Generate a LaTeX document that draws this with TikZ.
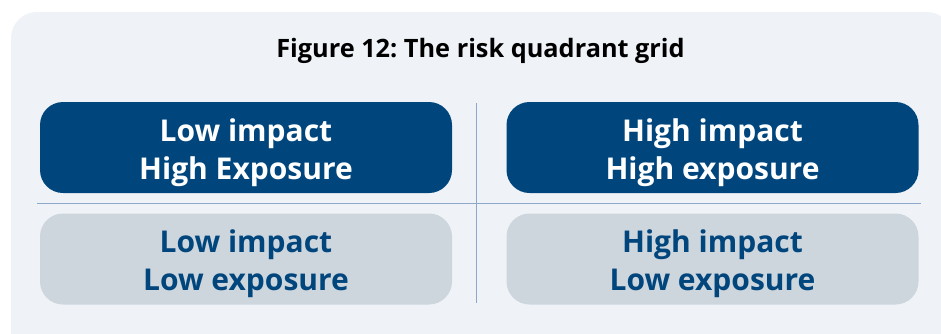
\documentclass[tikz,border=0pt]{standalone}
\usepackage{fontspec}
\setmainfont{Open Sans}
\frenchspacing
\definecolor{panelbg}{HTML}{EFF3F7}
\definecolor{navy}{HTML}{00467D}
\definecolor{softgrey}{HTML}{CDD5DD}
\definecolor{gridline}{HTML}{8EA8CA}
\tikzset{
  quad/.style={minimum width=412pt, minimum height=91pt, rounded corners=23pt, inner sep=0pt},
  hot/.style={quad, fill=navy},
  cold/.style={quad, fill=softgrey},
  label text/.style={align=center, inner sep=0pt, font=\fontsize{30}{38}\selectfont\bfseries},
  grid/.style={draw=gridline, line width=1pt}
}
\begin{document}
\begin{tikzpicture}[x=1pt,y=-1pt]
  \useasboundingbox (0,0) rectangle (941,333);
  % background panel
  \fill[panelbg, rounded corners=26pt] (11,12) rectangle (953,360);
  % title
  \node[font=\fontsize{25.3}{30}\selectfont\bfseries, anchor=base] (title) at (480.5,57) {Figure 12: The risk quadrant grid};
  % axis lines
  \coordinate (vtop) at (476,103);
  \coordinate (vbot) at (476,303);
  \coordinate (hleft) at (37,203);
  \coordinate (hright) at (921,203);
  \draw[grid] (vtop) -- (vbot);
  \draw[grid] (hleft) -- (hright);
  % quadrants
  \node[hot] (tl) at (246,147.5) {};
  \node[hot] (tr) at (712.5,147.5) {};
  \node[cold] (bl) at (246,259) {};
  \node[cold] (br) at (712.5,259) {};
  % quadrant labels
  \node[label text, text=white] (tltext) at ([yshift=-5pt]tl.center) {Low impact\\High Exposure};
  \node[label text, text=white] (trtext) at ([yshift=-5pt]tr.center) {High impact\\High exposure};
  \node[label text, text=navy] (bltext) at ([yshift=-4.5pt]bl.center) {Low impact\\Low exposure};
  \node[label text, text=navy] (brtext) at ([yshift=-4.5pt]br.center) {High impact\\Low exposure};
\end{tikzpicture}
\end{document}
